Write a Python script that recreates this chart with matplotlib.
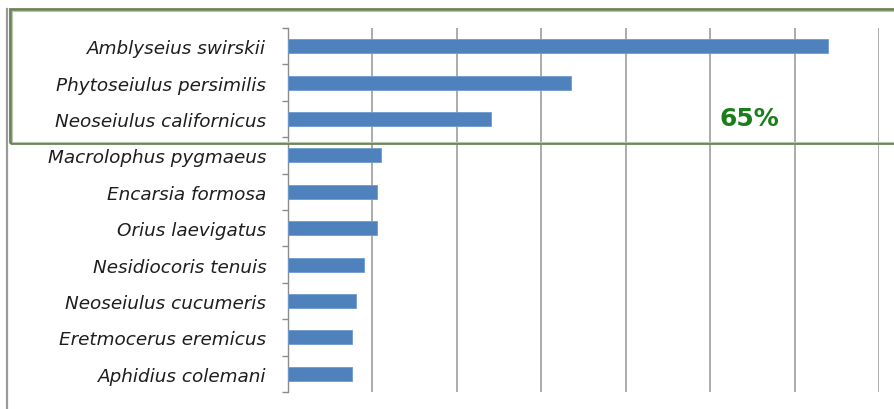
import matplotlib
matplotlib.use("Agg")
import matplotlib.pyplot as plt
from matplotlib.patches import Rectangle
from matplotlib.lines import Line2D
import numpy as np

# Species, top to bottom, and their share values (grid step = 10)
species = [
    "Amblyseius swirskii",
    "Phytoseiulus persimilis",
    "Neoseiulus californicus",
    "Macrolophus pygmaeus",
    "Encarsia formosa",
    "Orius laevigatus",
    "Nesidiocoris tenuis",
    "Neoseiulus cucumeris",
    "Eretmocerus eremicus",
    "Aphidius colemani",
]
values = [64.0, 33.5, 24.1, 11.0, 10.6, 10.6, 9.0, 8.1, 7.6, 7.6]
grid_values = [10, 20, 30, 40, 50, 60, 70]
highlight_label = "65%"

W, H = 894, 410
fig = plt.figure(figsize=(W / 100, H / 100), dpi=100)
fig.patch.set_facecolor("white")

ax = fig.add_axes([288 / W, 1 - 393 / H, (879 - 288) / W, (393 - 29) / H])

y = np.arange(len(species))
ax.barh(y, values, height=0.39, color="#4f81bd", edgecolor="#6f9bd0",
        linewidth=0.6, zorder=3)

ax.set_xlim(0, 70)
ax.set_ylim(len(species) - 0.5, -0.5)

ax.set_xticks(grid_values)
ax.tick_params(axis="x", length=0, labelbottom=False)
ax.grid(axis="x", color="#ababab", linewidth=1.4, zorder=0)

ax.set_yticks(y)
ax.set_yticklabels(species, fontstyle="italic", fontsize=13.2, color="#1e1e1e")
ax.tick_params(axis="y", which="major", length=0, pad=15.5)
ax.set_yticks(np.arange(len(species) + 1) - 0.5, minor=True)
ax.tick_params(axis="y", which="minor", length=4.5, width=1.0, color="#8c8c8c",
               direction="out")

for side in ("top", "right", "bottom"):
    ax.spines[side].set_visible(False)
ax.spines["left"].set_color("#8c8c8c")
ax.spines["left"].set_linewidth(1.0)

# Outer chart frame
fig.add_artist(Line2D([7 / W, 7 / W], [0, 1 - 10 / H], transform=fig.transFigure,
                      color="#9a9a9a", linewidth=1.6))

# Highlight box around the three leading species
fig.add_artist(Rectangle((10 / W, 1 - 144 / H), (W + 20 - 10) / W, (144 - 10) / H,
                         transform=fig.transFigure, fill=False,
                         edgecolor="#6b8457", linewidth=2.0, zorder=10))
fig.add_artist(Rectangle((11.5 / W, 1 - 142.5 / H), (W + 20) / W, (142.5 - 11.5) / H,
                         transform=fig.transFigure, fill=False,
                         edgecolor="#b9c8ad", linewidth=0.8, zorder=10))

fig.text(749 / W, 1 - 118.5 / H, highlight_label, color="#1a7f1a", fontsize=18,
         fontweight="bold", ha="center", va="center")

fig.savefig("out.png", dpi=100)
